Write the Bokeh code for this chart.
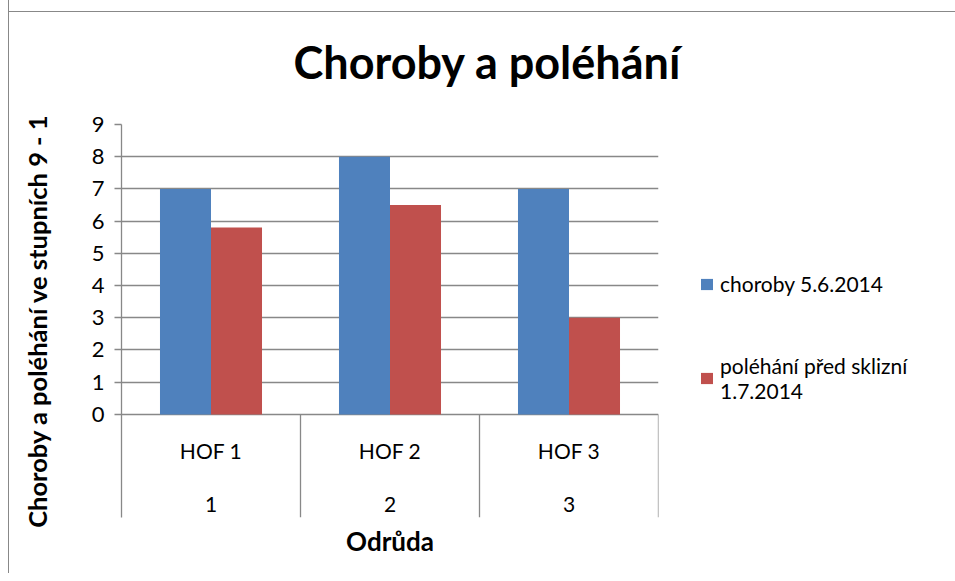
from bokeh.plotting import figure
from bokeh.models import (ColumnDataSource, Range1d, FixedTicker, Legend, LegendItem, Title)
from bokeh.core.properties import value
from bokeh.embed import file_html
from bokeh.resources import INLINE

# ---- data ----
varieties = ["HOF 1", "HOF 2", "HOF 3"]
variety_numbers = ["1", "2", "3"]
choroby = [7, 8, 7]
polehani = [5.8, 6.5, 3.0]
series_names = ["choroby 5.6.2014", "poléhání před sklizní\n1.7.2014"]
y_ticks = [0, 1, 2, 3, 4, 5, 6, 7, 8, 9]
title_text = "Choroby a poléhání"
y_label = "Choroby a poléhání ve stupních 9 - 1"
x_label = "Odrůda"

FONT = "Lato"
BLUE = "#4F81BD"
RED = "#C0504D"
GRID = "#888888"

n = len(varieties)
idx = list(range(n))
bar_w = 0.285
src = ColumnDataSource(dict(
    xc=[i + 0.5 for i in idx],
    x1=[i + 0.5 - bar_w / 2 for i in idx],
    x2=[i + 0.5 + bar_w / 2 for i in idx],
    choroby=choroby,
    polehani=polehani,
    varieties=varieties,
    nums=variety_numbers,
))

p = figure(width=939, height=573, output_backend="svg", toolbar_location=None,
           x_range=Range1d(0, n), y_range=Range1d(-3.2, 9),
           frame_width=537, frame_height=393,
           min_border_left=112, min_border_right=282, min_border_top=124, min_border_bottom=56)
p.styles = {"border-left": "1px solid #888888", "margin-left": "8px",
            "background-color": "white",
            "background-image": "linear-gradient(#888888, #888888)",
            "background-size": "100% 1px", "background-position": "0 11px",
            "background-repeat": "no-repeat"}
p.outline_line_color = None
p.background_fill_color = "white"
p.border_fill_color = None

# title
p.title = Title(text=title_text, align="left", offset=172, vertical_align="top",
                text_font=FONT, text_font_size="45px", text_font_style="bold",
                text_color="black", standoff=68)

# grid
p.xgrid.visible = False
p.ygrid.ticker = FixedTicker(ticks=y_ticks)
p.ygrid.grid_line_color = GRID
p.ygrid.grid_line_width = 1.3

# y axis
ya = p.yaxis[0]
ya.ticker = FixedTicker(ticks=y_ticks)
ya.major_tick_out = 7
ya.major_tick_in = 0
ya.minor_tick_line_color = None
ya.axis_line_color = GRID
ya.axis_line_width = 1.3
ya.major_tick_line_color = GRID
ya.major_tick_line_width = 1.3
ya.major_label_text_font = FONT
ya.major_label_text_font_size = "22px"
ya.major_label_text_color = "black"
ya.major_label_standoff = 10
ya.axis_label = y_label
ya.axis_label_text_font = FONT
ya.axis_label_text_font_size = "25.5px"
ya.axis_label_text_font_style = "bold"
ya.axis_label_text_color = "black"
ya.axis_label_standoff = 37

# x axis: only the title
xa = p.xaxis[0]
xa.ticker = FixedTicker(ticks=[])
xa.axis_line_color = None
xa.major_tick_line_color = None
xa.minor_tick_line_color = None
xa.axis_label = x_label
xa.axis_label_text_font = FONT
xa.axis_label_text_font_size = "26px"
xa.axis_label_text_font_style = "bold"
xa.axis_label_text_color = "black"
xa.axis_label_standoff = 7

# category dividers
p.segment(x0=[i + 1 for i in idx], y0=0, x1=[i + 1 for i in idx], y1=-3.2,
          line_color=GRID, line_width=1.3)

# bars
r1 = p.vbar(x="x1", top="choroby", width=bar_w, bottom=0, source=src,
            fill_color=BLUE, line_color=None)
r2 = p.vbar(x="x2", top="polehani", width=bar_w, bottom=0, source=src,
            fill_color=RED, line_color=None)

# category labels
p.text(x="xc", y=-1.12, text="varieties", source=src, text_font=value(FONT),
       text_font_size="21px", text_align="center", text_baseline="middle", text_color="black")
p.text(x="xc", y=-2.8, text="nums", source=src, text_font=value(FONT),
       text_font_size="21px", text_align="center", text_baseline="middle", text_color="black")

legend = Legend(items=[LegendItem(label=series_names[0], renderers=[r1]),
                       LegendItem(label=series_names[1], renderers=[r2])],
                location=(41, 114), padding=0, spacing=57, margin=0,
                border_line_color=None, background_fill_alpha=0,
                glyph_width=15, glyph_height=14, label_standoff=6,
                label_text_font=FONT, label_text_font_size="21px", label_text_color="black")
p.add_layout(legend, "right")

open("out.html", "w").write(file_html(p, INLINE))
